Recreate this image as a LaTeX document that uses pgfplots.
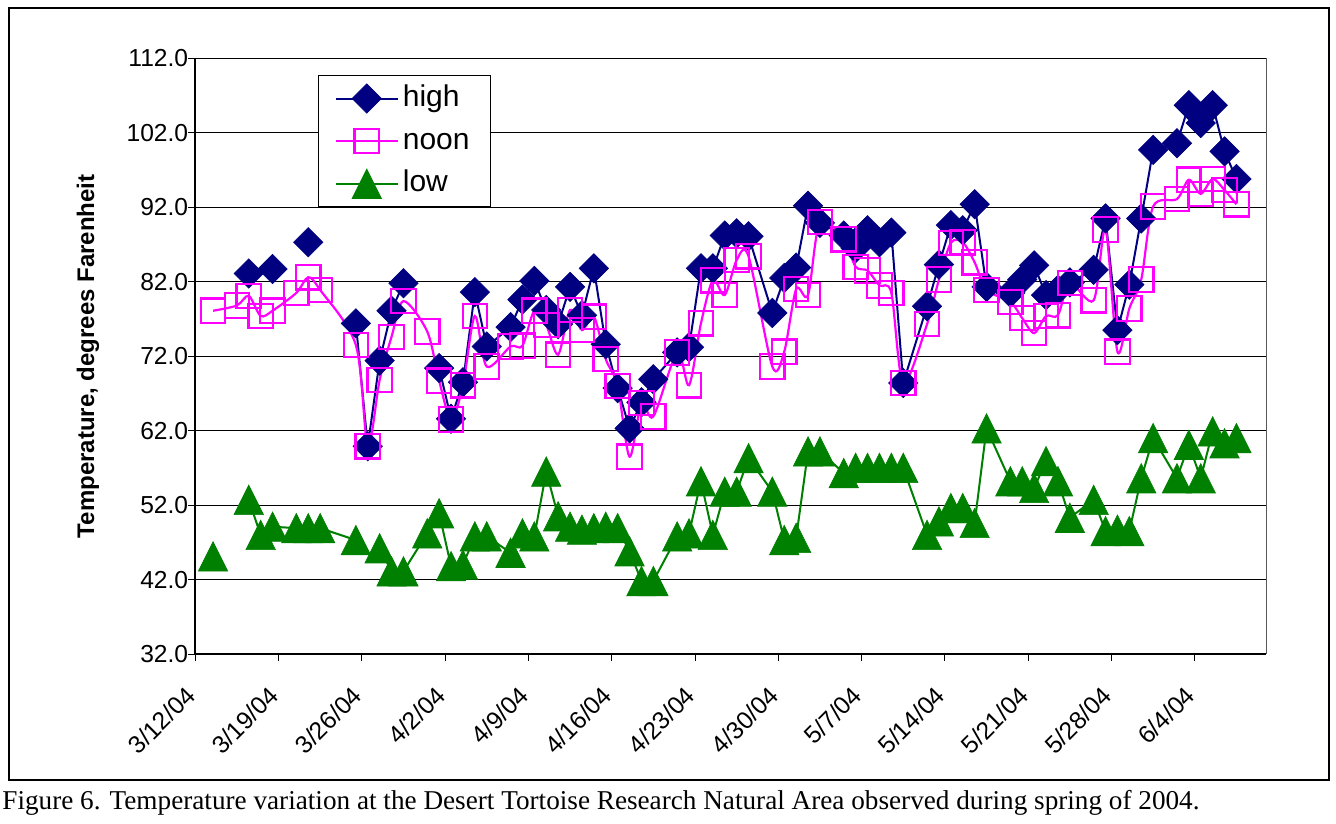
\documentclass[border=0pt]{standalone}
\usepackage{fontspec}
\setmainfont{Liberation Sans}
\newfontfamily\capfont{Liberation Serif}
\usepackage{pgfplots}
\pgfplotsset{compat=1.18}
\usepackage{pgfplotstable}
\definecolor{hiblue}{HTML}{000080}
\definecolor{noonpink}{HTML}{FF00FF}
\definecolor{lowgreen}{HTML}{008000}
\pgfplotstableread{
x high noon low
1.5 nan 78.1 45.1
3.5 nan 78.8 nan
4.5 83.1 80.1 52.7
5.5 nan 77.4 48.0
6.5 83.7 78.1 49.1
8.5 nan 80.5 48.9
9.5 87.3 82.6 48.9
10.5 nan 80.9 48.9
13.5 76.4 73.5 47.3
14.5 59.9 59.9 nan
15.5 71.4 68.8 46.2
16.5 78.1 74.6 43.1
17.5 81.8 79.4 43.1
19.5 nan 75.3 48.2
20.5 70.4 68.7 50.9
21.5 63.6 63.5 43.8
22.5 68.5 68.1 44.0
23.5 80.6 77.4 47.8
24.5 73.3 70.6 47.8
26.5 75.9 73.3 45.6
27.5 79.6 73.4 48.2
28.5 82.1 78.1 47.8
29.5 78.2 76.2 56.5
30.5 76.3 72.2 50.5
31.5 81.3 78.2 49.1
32.5 77.5 75.5 48.7
33.5 83.8 77.3 48.9
34.5 73.6 71.6 49.1
35.5 67.7 68.0 48.9
36.5 62.3 58.5 45.8
37.5 65.8 65.7 41.8
38.5 68.9 63.9 41.8
40.5 72.5 72.5 47.8
41.5 73.2 68.1 48.2
42.5 83.8 76.4 55.2
43.5 83.8 82.2 48.0
44.5 88.2 80.2 53.8
45.5 88.5 84.9 53.8
46.5 88.1 85.4 58.3
48.5 77.8 70.6 53.8
49.5 82.5 72.6 47.3
50.5 83.9 81.0 47.6
51.5 92.2 80.2 59.2
52.5 89.9 90.0 59.2
54.5 88.2 87.7 56.3
55.5 86.5 84.0 57.0
56.5 88.9 83.5 57.0
57.5 87.3 81.5 57.0
58.5 88.6 80.5 57.0
59.5 68.4 68.4 57.0
61.5 78.7 76.3 48.0
62.5 84.3 82.3 49.8
63.5 89.6 87.2 51.6
64.5 88.9 87.3 51.6
65.5 92.4 84.6 49.6
66.5 81.3 80.9 62.3
68.5 80.5 79.3 55.2
69.5 82.3 77.1 55.2
70.5 84.2 75.1 54.3
71.5 80.2 77.4 57.9
72.5 80.9 77.5 55.2
73.5 81.9 81.8 50.3
75.5 83.6 79.5 52.7
76.5 90.5 89.0 48.5
77.5 75.5 72.6 48.7
78.5 81.6 78.4 48.5
79.5 90.5 82.3 55.6
80.5 99.7 92.1 61.0
82.5 100.6 93.1 55.6
83.5 105.7 95.7 60.1
84.5 103.3 93.8 55.6
85.5 105.7 95.8 61.9
86.5 99.5 94.3 60.3
87.5 95.8 92.4 61.0
}\tempdata
\begin{document}
\begin{tikzpicture}[x=1pt,y=1pt]
\useasboundingbox (0,0) rectangle (668,-411.5);
\draw[line width=1pt] (4.5,-4) rectangle (664.5,-390);
\node[anchor=base west, inner sep=0pt, font=\capfont\fontsize{13.6}{15}\selectfont] at (1,-404.5) {Figure 6. Temperature variation at the Desert Tortoise Research Natural Area observed during spring of 2004.};
\begin{axis}[
  at={(97.6pt,-327pt)}, anchor=south west,
  scale only axis, width=535.5pt, height=297.85pt,
  xmin=0, xmax=90, ymin=32, ymax=112,
  ytick={32,42,...,112},
  xtick={0,7,...,84},
  xticklabels={3/12/04,3/19/04,3/26/04,4/2/04,4/9/04,4/16/04,4/23/04,4/30/04,5/7/04,5/14/04,5/21/04,5/28/04,6/4/04},
  axis x line*=bottom, axis y line*=left,
  axis line style={black, line width=1pt},
  ymajorgrids, grid style={black, line width=0.5pt},
  tick align=outside, major tick length=3.5pt, tick style={black, line width=0.5pt},
  unbounded coords=jump,
  ticklabel style={font=\fontsize{12.3}{14}\selectfont},
  yticklabel style={xshift=3.5pt, /pgf/number format/.cd, fixed, fixed zerofill, precision=1, assume math mode=true},
  xticklabel style={xshift=-5.5pt, yshift=-7pt, rotate=45, anchor=north east},
  ylabel={Temperature, degrees Farenheit},
  ylabel style={at={(axis description cs:-0.1,0.5)}, anchor=center, font=\bfseries\fontsize{12}{14}\selectfont},
  legend style={at={(0.1148,0.972)}, anchor=north west, draw=black, line width=0.5pt,
    font=\fontsize{15}{17}\selectfont, inner xsep=8pt, inner ysep=2.25pt, row sep=2.75pt,
    nodes={inner sep=2pt, text height=11.25pt, text depth=3.3pt, text width=34pt, align=left},
    row 1/.style={nodes={text height=17.25pt}}},
  legend cell align=left,
  legend image code/.code={\draw[mark repeat=2,mark phase=2,#1] plot coordinates {(0pt,0pt) (15.5pt,0pt) (31pt,0pt)};},
  clip=false,
]
\draw[gray!70!black, line width=0.5pt] (rel axis cs:1,0) -- (rel axis cs:1,1);
\addplot[hiblue, line width=1pt, mark=square*, mark size=5.2pt, mark options={rotate=45, fill=hiblue, line width=0.3pt, solid}] table[x=x,y=high]{\tempdata};
\addlegendentry{high}
\addplot[noonpink, line width=1.1pt, smooth, mark=square, mark size=6.1pt, mark options={line width=1.1pt, fill=none, solid}] table[x=x,y=noon]{\tempdata};
\addlegendentry{noon}
\addplot[lowgreen, line width=1pt, mark=triangle*, mark size=8.5pt, mark options={yshift=-2.45pt, yscale=1.155, fill=lowgreen, line width=0.3pt, solid}] table[x=x,y=low]{\tempdata};
\addlegendentry{low}
\end{axis}
\end{tikzpicture}
\end{document}
